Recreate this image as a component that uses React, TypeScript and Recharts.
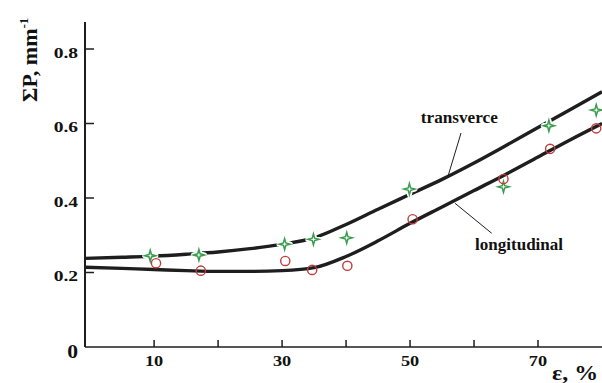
import React from 'react';
import { ComposedChart, Line, Scatter, XAxis, YAxis, ReferenceDot, ReferenceLine } from 'recharts';

// fitted curves
const curveX = [-0.8, 5, 10, 15, 20, 25, 30, 35, 40, 45, 50, 55, 60, 65, 70, 75, 80];
const transverseCurve = [0.238, 0.241, 0.244, 0.249, 0.255, 0.264, 0.276, 0.293, 0.329, 0.370, 0.410, 0.450, 0.494, 0.541, 0.589, 0.637, 0.685];
const longitudinalCurve = [0.214, 0.211, 0.208, 0.205, 0.203, 0.203, 0.205, 0.213, 0.243, 0.285, 0.332, 0.376, 0.42, 0.464, 0.51, 0.556, 0.6];

// measured points
const transverseX = [9.4, 17.0, 30.4, 34.9, 40.1, 49.9, 64.6, 71.7, 79.1];
const transverseY = [0.245, 0.247, 0.276, 0.289, 0.293, 0.424, 0.43, 0.594, 0.636];
const longitudinalX = [10.3, 17.3, 30.5, 34.7, 40.2, 50.4, 64.6, 71.9, 79.1];
const longitudinalY = [0.225, 0.205, 0.231, 0.207, 0.218, 0.343, 0.451, 0.532, 0.587];

const xTicks = [10, 20, 30, 40, 50, 60, 70];
const xLabels = [10, 30, 50, 70];
const yTicks = [0, 0.2, 0.4, 0.6, 0.8];
const rightTicks = [0.2, 0.4, 0.6, 0.8];

const X_DOMAIN: [number, number] = [-0.8, 80];
const Y_DOMAIN: [number, number] = [0, 0.8725];

const FONT = 'Liberation Serif, Times New Roman, Times, serif';
const INK = '#1e1e1e';
const GREEN = '#3a9d4e';
const RED = '#c03c3c';
const txt = { fontFamily: FONT, fontWeight: 700 as const };

const transverseLine = curveX.map((x, i) => ({ x, y: transverseCurve[i] }));
const longitudinalLine = curveX.map((x, i) => ({ x, y: longitudinalCurve[i] }));
const transversePts = transverseX.map((x, i) => ({ x, y: transverseY[i] }));
const longitudinalPts = longitudinalX.map((x, i) => ({ x, y: longitudinalY[i] }));

const starPath = (cx: number, cy: number, R = 5.6, r = 1.7) => {
  let d = '';
  for (let k = 0; k < 8; k++) {
    const a = (-90 + k * 45) * Math.PI / 180;
    const rr = k % 2 === 0 ? R : r;
    d += (k === 0 ? 'M' : 'L') + (cx + rr * Math.cos(a)).toFixed(2) + ',' + (cy + rr * Math.sin(a)).toFixed(2);
  }
  return d + 'Z';
};

const StarShape = (p: any) => {
  if (p.cx == null || p.cy == null) return null;
  const d = starPath(p.cx, p.cy);
  return (
    <g>
      <path d={d} fill="#fff" stroke="#fff" strokeWidth={5} strokeLinejoin="round" />
      <path d={d} fill="#fff" stroke={GREEN} strokeWidth={1.5} strokeLinejoin="miter" />
    </g>
  );
};

const CircleShape = (p: any) => {
  if (p.cx == null || p.cy == null) return null;
  return <circle cx={p.cx} cy={p.cy} r={4.6} fill="none" stroke={RED} strokeWidth={1.4} />;
};

const BottomTick = (p: any) => {
  const { x, y, payload } = p;
  const v = payload.value;
  return (
    <g>
      <line x1={x} x2={x} y1={y} y2={y - 7} stroke={INK} strokeWidth={1.5} />
      {xLabels.includes(v) && (
        <text transform={`translate(${x},${y + 19}) scale(1.22,1)`} textAnchor="middle" fontSize={15} style={txt} fill="#111">
          {v}
        </text>
      )}
    </g>
  );
};

const TopTick = (p: any) => {
  const { x, y } = p;
  return <line x1={x} x2={x} y1={y} y2={y + 7} stroke={INK} strokeWidth={1.5} />;
};

const LeftTick = (p: any) => {
  const { x, y, payload } = p;
  const v = payload.value;
  if (v === 0) {
    return (
      <text transform={`translate(${x - 7},${y + 11}) scale(1.2,1)`} textAnchor="end" fontSize={18} style={txt} fill="#111">0</text>
    );
  }
  return (
    <g>
      <line x1={x} x2={x + 9} y1={y} y2={y} stroke={INK} strokeWidth={1.5} />
      <text transform={`translate(${x - 7},${y + 8.5}) scale(1.3,1)`} textAnchor="end" fontSize={15} style={txt} fill="#111">
        {v.toFixed(1)}
      </text>
    </g>
  );
};

const RightTick = (p: any) => {
  const { x, y } = p;
  return <line x1={x - 6} x2={x} y1={y} y2={y} stroke={INK} strokeWidth={1.5} />;
};

const labelAt = (text: string, len: number) => (p: any) => {
  if (p.cx == null) return null;
  return (
    <text x={p.cx} y={p.cy} fontSize={16} style={txt} fill="#111" textLength={len} lengthAdjust="spacingAndGlyphs">
      {text}
    </text>
  );
};

export default function App() {
  return (
    <div style={{ position: 'absolute', left: 0, top: 0, width: 602, height: 383, background: '#fff' }}>
      <ComposedChart width={602} height={383} margin={{ top: 22, right: 0, bottom: 0, left: 0 }}>
        <XAxis
          xAxisId={0}
          type="number"
          dataKey="x"
          domain={X_DOMAIN}
          allowDataOverflow
          ticks={xTicks}
          interval={0}
          height={36}
          tickSize={0}
          tickMargin={0}
          tickLine={false}
          tick={<BottomTick />}
          axisLine={{ stroke: INK, strokeWidth: 1.6 }}
        />
        <XAxis
          xAxisId="top"
          orientation="top"
          type="number"
          dataKey="x"
          domain={X_DOMAIN}
          allowDataOverflow
          ticks={xTicks}
          interval={0}
          height={0}
          tickSize={0}
          tickMargin={0}
          tickLine={false}
          tick={<TopTick />}
          axisLine={{ stroke: INK, strokeWidth: 1.4 }}
        />
        <YAxis
          yAxisId={0}
          type="number"
          domain={Y_DOMAIN}
          allowDataOverflow
          ticks={yTicks}
          interval={0}
          width={85}
          tickSize={0}
          tickMargin={0}
          tickLine={false}
          tick={<LeftTick />}
          axisLine={{ stroke: INK, strokeWidth: 2 }}
        />
        <YAxis
          yAxisId="right"
          orientation="right"
          type="number"
          domain={Y_DOMAIN}
          allowDataOverflow
          ticks={rightTicks}
          interval={0}
          width={0}
          tickSize={0}
          tickMargin={0}
          tickLine={false}
          tick={<RightTick />}
          axisLine={false}
        />
        <Line data={transverseLine} dataKey="y" type="monotone" stroke={INK} strokeWidth={3.4} dot={false} isAnimationActive={false} />
        <Line data={longitudinalLine} dataKey="y" type="monotone" stroke={INK} strokeWidth={3.4} dot={false} isAnimationActive={false} />
        <ReferenceLine segment={[{ x: 57.97, y: 0.5745 }, { x: 55.94, y: 0.459 }]} stroke={INK} strokeWidth={1} />
        <ReferenceLine segment={[{ x: 57.03, y: 0.3858 }, { x: 62.77, y: 0.3052 }]} stroke={INK} strokeWidth={1} />
        <ReferenceDot x={51.68} y={0.6013} r={0} shape={labelAt('transverce', 77)} />
        <ReferenceDot x={60.16} y={0.2604} r={0} shape={labelAt('longitudinal', 88)} />
        <Scatter data={transversePts} dataKey="y" shape={<StarShape />} isAnimationActive={false} />
        <Scatter data={longitudinalPts} dataKey="y" shape={<CircleShape />} isAnimationActive={false} />
      </ComposedChart>
      <svg width={602} height={383} style={{ position: 'absolute', left: 0, top: 0, pointerEvents: 'none' }}>
        <text transform="translate(37,102) rotate(-90)" fontSize={22} style={txt} fill="#111">
          ΣP, mm<tspan dy={-9} fontSize={13}>-1</tspan>
        </text>
        <text x={552} y={380} fontSize={20} style={txt} fill="#111" textLength={46} lengthAdjust="spacingAndGlyphs">ε, %</text>
      </svg>
    </div>
  );
}
